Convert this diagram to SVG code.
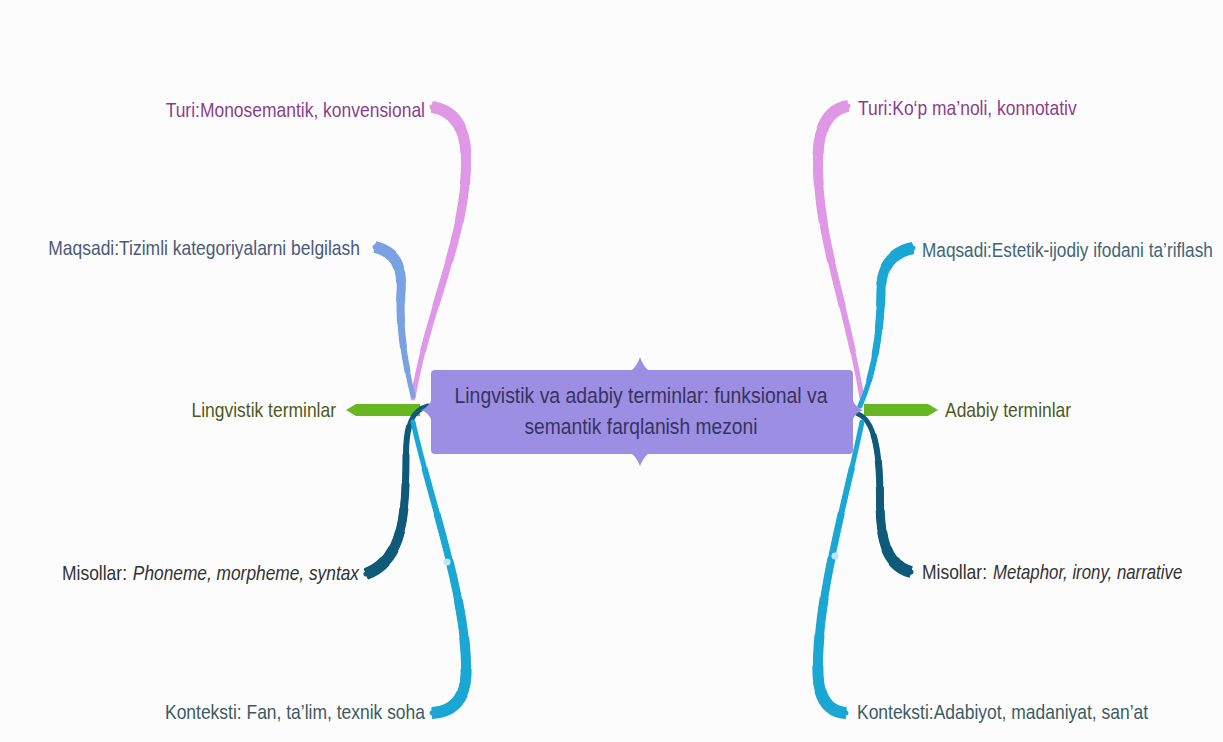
<svg xmlns="http://www.w3.org/2000/svg" width="1223" height="742" viewBox="0 0 1223 742">
<style>
.t{font-family:"Liberation Sans",Arial,sans-serif;font-size:20.5px}
.c{font-size:22.5px}
.i{font-style:italic}
.b{fill:none;stroke-linecap:butt;stroke-linejoin:round}
.a{stroke-width:5;stroke-linecap:round}
.d{stroke-width:6;stroke-dasharray:85 15;stroke-dashoffset:-15}
.e{stroke-width:7;stroke-dasharray:70 30;stroke-dashoffset:-30}
.f{stroke-width:8;stroke-dasharray:55 45;stroke-dashoffset:-45}
.g{stroke-width:9;stroke-dasharray:42 58;stroke-dashoffset:-58}
.h{stroke-width:10;stroke-dasharray:30 70;stroke-dashoffset:-70}
.j{stroke-width:11;stroke-dasharray:20 80;stroke-dashoffset:-80}
.k{stroke-width:12;stroke-dasharray:12 88;stroke-dashoffset:-88}
.pink{stroke:#DF98E6}.lb{stroke:#1BA7D4}.sl{stroke:#7AA2E2}.dk{stroke:#0F5A79}
</style>
<defs>
<path id="lp" pathLength="100" d="M413,398 C430,300 468,235 466,155 C465,125 452,110 432,107"/>
<path id="ls" pathLength="100" d="M413,396 C404,360 399,325 401,292 C403,264 393,251 375,247"/>
<path id="ld" pathLength="100" d="M428,406 C412,410 406,425 406,455 C406,520 402,560 366,574"/>
<path id="lk" pathLength="100" d="M413,422 C430,500 468,600 466,675 C465,700 452,712 432,713"/>
<path id="rp" pathLength="100" d="M862,398 C846,300 816,235 818,155 C819,125 830,109 848,106"/>
<path id="rs" pathLength="100" d="M860,406 C872,380 881,335 881,290 C881,266 893,252 913,248"/>
<path id="rd" pathLength="100" d="M858,414 C874,420 880,450 880,500 C880,545 889,566 911,572"/>
<path id="rk" pathLength="100" d="M862,422 C846,500 816,600 818,675 C819,700 830,712 846,713"/>
</defs>
<rect width="1223" height="742" fill="#FCFCFC"/>
<g id="connectors">
<g class="b pink"><use href="#lp" class="a"/><use href="#lp" class="d"/><use href="#lp" class="e"/><use href="#lp" class="f"/><use href="#lp" class="g"/><use href="#lp" class="h"/><use href="#lp" class="j"/><use href="#lp" class="k"/></g>
<g class="b sl"><use href="#ls" class="a"/><use href="#ls" class="d"/><use href="#ls" class="e"/><use href="#ls" class="f"/><use href="#ls" class="g"/><use href="#ls" class="h"/><use href="#ls" class="j"/><use href="#ls" class="k"/></g>
<path fill="#66B722" d="M420,404 L356,404 L346,410 L356,416 L420,416 Z"/>
<g class="b dk"><use href="#ld" class="a"/><use href="#ld" class="d"/><use href="#ld" class="e"/><use href="#ld" class="f"/><use href="#ld" class="g"/><use href="#ld" class="h"/><use href="#ld" class="j"/><use href="#ld" class="k"/></g>
<g class="b lb"><use href="#lk" class="a"/><use href="#lk" class="d"/><use href="#lk" class="e"/><use href="#lk" class="f"/><use href="#lk" class="g"/><use href="#lk" class="h"/><use href="#lk" class="j"/><use href="#lk" class="k"/></g>
<circle cx="447" cy="562" r="3.5" fill="#BFE6F5"/>
<g class="b pink"><use href="#rp" class="a"/><use href="#rp" class="d"/><use href="#rp" class="e"/><use href="#rp" class="f"/><use href="#rp" class="g"/><use href="#rp" class="h"/><use href="#rp" class="j"/><use href="#rp" class="k"/></g>
<g class="b lb"><use href="#rs" class="a"/><use href="#rs" class="d"/><use href="#rs" class="e"/><use href="#rs" class="f"/><use href="#rs" class="g"/><use href="#rs" class="h"/><use href="#rs" class="j"/><use href="#rs" class="k"/></g>
<path fill="#66B722" d="M864,404 L928,404 L938,410 L928,416 L864,416 Z"/>
<g class="b dk"><use href="#rd" class="a"/><use href="#rd" class="d"/><use href="#rd" class="e"/><use href="#rd" class="f"/><use href="#rd" class="g"/><use href="#rd" class="h"/><use href="#rd" class="j"/><use href="#rd" class="k"/></g>
<g class="b lb"><use href="#rk" class="a"/><use href="#rk" class="d"/><use href="#rk" class="e"/><use href="#rk" class="f"/><use href="#rk" class="g"/><use href="#rk" class="h"/><use href="#rk" class="j"/><use href="#rk" class="k"/></g>
<circle cx="835" cy="556" r="3.5" fill="#BFE6F5"/>
</g>
<g id="center">
<rect x="431" y="370" width="422" height="84" rx="4" fill="#9C8FE3"/>
<path fill="#9C8FE3" d="M631,371 Q637,366 640,357 Q643,366 649,371 Z"/>
<path fill="#9C8FE3" d="M631,453 Q637,458 640,466 Q643,458 649,453 Z"/>
<path fill="#9C8FE3" d="M432,399 Q428,408 421,410 Q428,412 432,421 Z"/>
<path fill="#9C8FE3" d="M852,399 Q856,408 863,410 Q856,412 852,421 Z"/>
<text class="t c" x="641" y="403" text-anchor="middle" fill="#37335E" textLength="373" lengthAdjust="spacingAndGlyphs">Lingvistik va adabiy terminlar: funksional va</text>
<text class="t c" x="641" y="434" text-anchor="middle" fill="#37335E" textLength="233" lengthAdjust="spacingAndGlyphs">semantik farqlanish mezoni</text>
</g>
<g id="l-turi"><text class="t" transform="translate(425,117) scale(0.852,1)" text-anchor="end" fill="#8A3F8C">Turi:Monosemantik, konvensional</text></g>
<g id="l-maqsadi"><text class="t" transform="translate(360,255) scale(0.852,1)" text-anchor="end" fill="#4B5A78">Maqsadi:Tizimli kategoriyalarni belgilash</text></g>
<g id="l-root"><text class="t" transform="translate(336,417) scale(0.852,1)" text-anchor="end" fill="#4C5A1E">Lingvistik terminlar</text></g>
<g id="l-misollar"><text class="t" transform="translate(62,580) scale(0.852,1)" fill="#333333">Misollar:</text><text class="t i" transform="translate(359,580) scale(0.845,1)" text-anchor="end" fill="#333333">Phoneme, morpheme, syntax</text></g>
<g id="l-kontekst"><text class="t" transform="translate(425,719) scale(0.852,1)" text-anchor="end" fill="#3C5B62">Konteksti: Fan, ta’lim, texnik soha</text></g>
<g id="r-turi"><text class="t" transform="translate(858,115) scale(0.852,1)" fill="#8A3F8C">Turi:Ko‘p ma’noli, konnotativ</text></g>
<g id="r-maqsadi"><text class="t" transform="translate(922,257) scale(0.84,1)" fill="#3E6674">Maqsadi:Estetik-ijodiy ifodani ta’riflash</text></g>
<g id="r-root"><text class="t" transform="translate(945,417) scale(0.852,1)" fill="#4C5A1E">Adabiy terminlar</text></g>
<g id="r-misollar"><text class="t" transform="translate(922,579) scale(0.852,1)" fill="#333333">Misollar:</text><text class="t i" transform="translate(993,579) scale(0.82,1)" fill="#333333">Metaphor, irony, narrative</text></g>
<g id="r-kontekst"><text class="t" transform="translate(857,719) scale(0.852,1)" fill="#3C5B62">Konteksti:Adabiyot, madaniyat, san’at</text></g>
</svg>
